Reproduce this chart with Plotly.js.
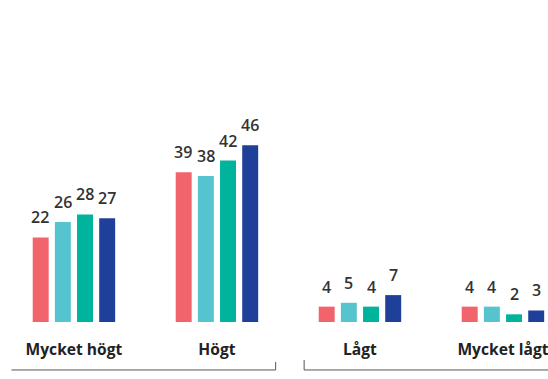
<!DOCTYPE html>
<html>
<head>
<meta charset="utf-8">
<script src="https://cdn.plot.ly/plotly-3.0.1.min.js"></script>
<style>html,body{margin:0;padding:0;background:#fff;}#chart{width:548px;height:379px;}</style>
</head>
<body>
<div id="chart"></div>
<script>
const categories = ["Mycket högt", "Högt", "Lågt", "Mycket lågt"];
const seriesNames = ["Serie 1", "Serie 2", "Serie 3", "Serie 4"];
const series1 = [22, 39, 4, 4];
const series2 = [26, 38, 5, 4];
const series3 = [28, 42, 4, 2];
const series4 = [27, 46, 7, 3];
const colors = ["#F1646C", "#56C4CE", "#00B39C", "#1F4099"];

const allSeries = [series1, series2, series3, series4];
const textColor = "#333333";
const fontFam = "'Open Sans', 'Noto Sans', sans-serif";

const traces = allSeries.map((vals, i) => ({
  type: "bar",
  name: seriesNames[i],
  x: categories,
  y: vals,
  marker: {color: colors[i]},
  hoverinfo: "skip"
}));

const barPitch = 22.3;
const annotations = [];
allSeries.forEach((vals, i) => {
  vals.forEach((v, j) => {
    annotations.push({
      x: categories[j], y: v, xref: "x", yref: "y",
      text: String(v), showarrow: false,
      xanchor: "center", yanchor: "bottom",
      xshift: (i - 1.5) * barPitch, yshift: 7,
      font: {family: fontFam, size: 16, color: textColor, weight: 600}
    });
  });
});

const bracketStyle = {color: "#555555", width: 1};
const shapes = [
  {type: "line", xref: "paper", yref: "paper", x0: 0.021, x1: 0.503, y0: -0.149, y1: -0.149, line: bracketStyle},
  {type: "line", xref: "paper", yref: "paper", x0: 0.503, x1: 0.503, y0: -0.149, y1: -0.124, line: bracketStyle},
  {type: "line", xref: "paper", yref: "paper", x0: 0.555, x1: 1.0, y0: -0.149, y1: -0.149, line: bracketStyle},
  {type: "line", xref: "paper", yref: "paper", x0: 0.555, x1: 0.555, y0: -0.149, y1: -0.118, line: bracketStyle}
];

const layout = {
  width: 548, height: 379,
  margin: {l: 0, r: 0, t: 0, b: 57},
  paper_bgcolor: "#ffffff", plot_bgcolor: "#ffffff",
  barmode: "group",
  bargap: 0.38,
  bargroupgap: 0.28,
  showlegend: false,
  xaxis: {
    type: "category",
    range: [-0.517, 3.315],
    showgrid: false, zeroline: false, showline: false,
    ticks: "outside", ticklen: 13, tickcolor: "rgba(0,0,0,0)",
    tickfont: {family: fontFam, size: 15.6, color: "#222222", weight: 700},
    fixedrange: true
  },
  yaxis: {
    range: [0, 83.8],
    visible: false, showgrid: false, zeroline: false, fixedrange: true
  },
  annotations: annotations,
  shapes: shapes
};

Plotly.newPlot("chart", traces, layout, {displayModeBar: false, staticPlot: true});
</script>
</body>
</html>
